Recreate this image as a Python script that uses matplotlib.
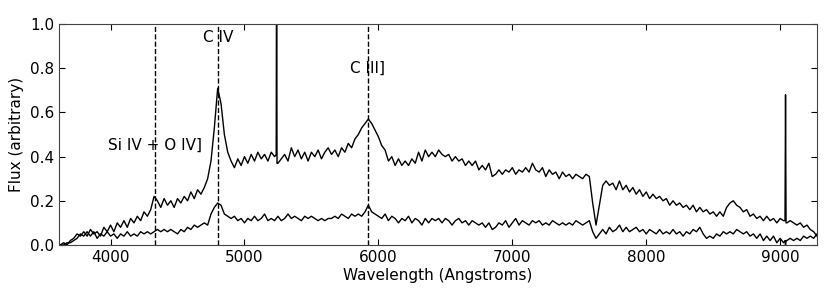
import numpy as np
import matplotlib
matplotlib.use("Agg")
import matplotlib.pyplot as plt

# wavelength grid (Angstroms), 25 A steps
wave = np.arange(3625, 9276, 25)

flux_top = [
    0.00, 0.01, 0.00,
    0.02, 0.03, 0.05, 0.04,  0.06, 0.04, 0.07, 0.05,  0.06, 0.04, 0.08, 0.06,
    0.09, 0.06, 0.10, 0.08,  0.11, 0.08, 0.12, 0.10,  0.13, 0.11, 0.15, 0.13,
    0.16, 0.22, 0.20, 0.17,  0.21, 0.18, 0.20, 0.17,  0.21, 0.19, 0.22, 0.20,
    0.24, 0.21, 0.25, 0.23,  0.26, 0.30, 0.38, 0.53,  0.71, 0.64, 0.50, 0.42,
    0.38, 0.35, 0.39, 0.36,  0.40, 0.37, 0.41, 0.38,  0.42, 0.39, 0.41, 0.38,
    0.42, 0.40, 0.37, 0.39,  0.41, 0.38, 0.44, 0.40,  0.43, 0.39, 0.42, 0.38,
    0.42, 0.40, 0.43, 0.39,  0.42, 0.44, 0.41, 0.43,  0.40, 0.44, 0.42, 0.46,
    0.44, 0.48, 0.50, 0.53,  0.55, 0.57, 0.55, 0.52,  0.49, 0.45, 0.43, 0.38,
    0.40, 0.36, 0.39, 0.36,  0.38, 0.36, 0.39, 0.37,  0.42, 0.38, 0.43, 0.40,
    0.42, 0.40, 0.43, 0.41,  0.40, 0.41, 0.38, 0.40,  0.38, 0.39, 0.36, 0.38,
    0.36, 0.38, 0.34, 0.36,  0.34, 0.37, 0.31, 0.32,  0.34, 0.32, 0.34, 0.33,
    0.35, 0.32, 0.34, 0.33,  0.35, 0.33, 0.37, 0.34,  0.33, 0.35, 0.31, 0.34,
    0.32, 0.33, 0.30, 0.33,  0.31, 0.32, 0.30, 0.32,  0.31, 0.30, 0.32, 0.31,
    0.19, 0.09, 0.18, 0.27,  0.29, 0.27, 0.28, 0.25,  0.29, 0.25, 0.27, 0.24,
    0.26, 0.23, 0.25, 0.22,  0.24, 0.21, 0.23, 0.21,  0.22, 0.20, 0.21, 0.18,
    0.20, 0.18, 0.19, 0.17,  0.18, 0.16, 0.18, 0.15,  0.17, 0.15, 0.16, 0.14,
    0.15, 0.13, 0.15, 0.13,  0.17, 0.19, 0.20, 0.18,  0.17, 0.15, 0.16, 0.13,
    0.14, 0.12, 0.13, 0.11,  0.13, 0.11, 0.12, 0.10,  0.12, 0.11, 0.10, 0.11,
    0.10, 0.09, 0.10, 0.08,  0.09, 0.07, 0.06, 0.04,
]

flux_bot = [
    0.00, 0.00, 0.01,
    0.01, 0.02, 0.03, 0.05,  0.04, 0.06, 0.04, 0.06,  0.03, 0.05, 0.04, 0.06,
    0.04, 0.05, 0.03, 0.05,  0.04, 0.06, 0.04, 0.05,  0.04, 0.06, 0.05, 0.06,
    0.05, 0.06, 0.07, 0.06,  0.07, 0.06, 0.07, 0.06,  0.05, 0.07, 0.06, 0.08,
    0.07, 0.09, 0.08, 0.09,  0.10, 0.09, 0.14, 0.17,  0.19, 0.18, 0.14, 0.13,
    0.12, 0.13, 0.11, 0.12,  0.10, 0.12, 0.11, 0.13,  0.11, 0.12, 0.14, 0.11,
    0.12, 0.11, 0.13, 0.11,  0.12, 0.14, 0.12, 0.13,  0.12, 0.11, 0.13, 0.12,
    0.13, 0.12, 0.11, 0.12,  0.11, 0.12, 0.12, 0.13,  0.12, 0.14, 0.13, 0.12,
    0.14, 0.13, 0.14, 0.13,  0.15, 0.18, 0.15, 0.14,  0.13, 0.12, 0.14, 0.11,
    0.13, 0.12, 0.10, 0.12,  0.11, 0.13, 0.10, 0.12,  0.11, 0.09, 0.12, 0.10,
    0.12, 0.11, 0.12, 0.10,  0.12, 0.11, 0.09, 0.11,  0.12, 0.10, 0.11, 0.09,
    0.11, 0.10, 0.09, 0.10,  0.08, 0.10, 0.07, 0.08,  0.10, 0.09, 0.11, 0.08,
    0.10, 0.12, 0.09, 0.11,  0.10, 0.09, 0.11, 0.10,  0.11, 0.09, 0.10, 0.09,
    0.11, 0.10, 0.09, 0.10,  0.09, 0.10, 0.09, 0.11,  0.10, 0.09, 0.10, 0.11,
    0.06, 0.03, 0.05, 0.07,  0.05, 0.08, 0.06, 0.07,  0.09, 0.06, 0.08, 0.06,
    0.07, 0.08, 0.06, 0.07,  0.05, 0.07, 0.06, 0.05,  0.07, 0.05, 0.06, 0.05,
    0.07, 0.05, 0.06, 0.04,  0.06, 0.05, 0.07, 0.06,  0.08, 0.05, 0.03, 0.04,
    0.03, 0.05, 0.04, 0.06,  0.05, 0.06, 0.05, 0.07,  0.06, 0.05, 0.06, 0.04,
    0.05, 0.03, 0.05, 0.02,  0.04, 0.02, 0.04, 0.01,  0.03, 0.01, 0.02, 0.03,
    0.02, 0.03, 0.02, 0.04,  0.03, 0.04, 0.03, 0.05,
]

# narrow sky-line residuals, added on top of the grid
spike_wave_top = [5237, 5240, 5243, 9036, 9040, 9044]
spike_flux_top = [0.41, 1.60, 0.37, 0.11, 0.68, 0.10]
spike_wave_bot = [9036, 9040, 9044]
spike_flux_bot = [0.02, 0.00, 0.02]

# emission lines
line_names = ["Si IV + O IV]", "C IV", "C III]"]
line_wave = [4335, 4806, 5920]
label_y = [0.45, 0.94, 0.80]


def merge(w, f, sw, sf):
    ww = np.concatenate([w, sw])
    ff = np.concatenate([f, sf])
    idx = np.argsort(ww, kind="stable")
    return ww[idx], ff[idx]


w1, f1 = merge(wave, flux_top, spike_wave_top, spike_flux_top)
w2, f2 = merge(wave, flux_bot, spike_wave_bot, spike_flux_bot)

plt.rcParams['font.family'] = ['DejaVu Sans']
plt.rcParams['font.size'] = 11

fig = plt.figure(figsize=(8.33, 2.98), dpi=100)
ax = fig.add_axes([0.0708, 0.178, 0.910, 0.741])

ax.plot(w1, f1, color='black', lw=1)
ax.plot(w2, f2, color='black', lw=1)

for name, lw_, ly in zip(line_names, line_wave, label_y):
    ax.axvline(lw_, color='black', ls='--', lw=1)
    ax.text(lw_, ly, name, ha='center', va='center', fontsize=11)

ax.set_xlim(3615, 9275)
ax.set_ylim(0, 1.0)
ax.set_xticks([4000, 5000, 6000, 7000, 8000, 9000])
ax.set_yticks([0.0, 0.2, 0.4, 0.6, 0.8, 1.0])
ax.tick_params(direction='in', top=True, right=True, length=4, labelsize=11)
for s in ax.spines.values():
    s.set_color('#444444')
ax.set_xlabel('Wavelength (Angstroms)', fontsize=11, labelpad=2)
ax.set_ylabel('Flux (arbitrary)', fontsize=11, labelpad=4)

fig.savefig('out.png', dpi=100)
